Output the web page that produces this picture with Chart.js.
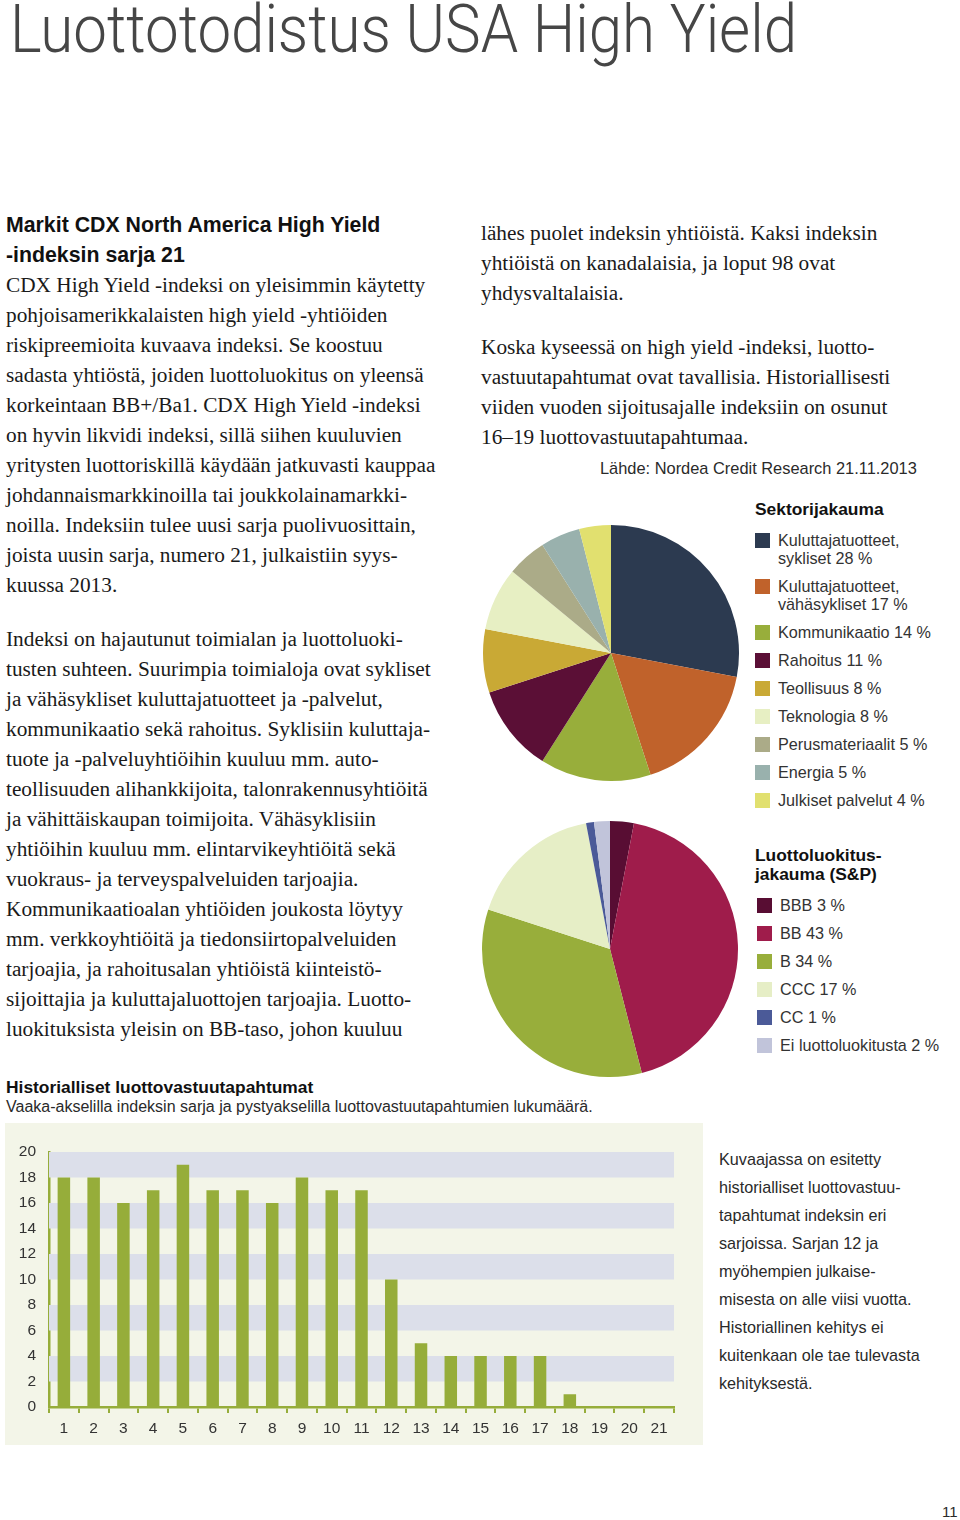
<!DOCTYPE html>
<html lang="fi">
<head>
<meta charset="utf-8">
<title>Luottotodistus USA High Yield</title>
<script src="https://cdn.jsdelivr.net/npm/chart.js@4.4.1/dist/chart.umd.min.js"></script>
<style>
  html, body { margin: 0; padding: 0; background: #fff; }
  body { width: 960px; height: 1520px; position: relative; overflow: hidden; color: #1e1e1e; }
  .abs { position: absolute; white-space: nowrap; }
  #title { left: 10px; top: -3px; font-family: Roboto, "Liberation Sans", sans-serif; font-weight: 300;
           font-size: 66px; line-height: 66px; color: #464646; transform-origin: 0 0; }
  .serif { font-family: "Liberation Serif", "DejaVu Serif", serif; font-size: 21.3px; line-height: 30px; color: #1a1a1a; }
  .head { font-family: "Liberation Sans", Arial, sans-serif; font-weight: bold; font-size: 21.3px; line-height: 30px; color: #111; }
  .sans { font-family: "Liberation Sans", Arial, sans-serif; color: #2a2a2a; }
  .legend { position: absolute; font-family: "Liberation Sans", Arial, sans-serif; font-size: 16.2px; color: #333; }
  .legend .item { display: flex; align-items: flex-start; margin-bottom: 10px; }
  .legend .sw { width: 15px; height: 15px; flex: none; margin-right: 8px; margin-top: 2px; }
  .legend .tx { line-height: 18px; width: 175px; }
  .legend h4 { margin: 0; font-size: 17.4px; font-weight: bold; color: #111; line-height: 19px; }
  #barBox { position: absolute; left: 5px; top: 1123px; width: 698px; height: 322px; background: #f3f5e8; }
</style>
</head>
<body>

<div id="title" class="abs">Luottotodistus USA High Yield</div>

<div class="abs" style="left:6px; top:210px;">
  <div class="head">Markit CDX North America High Yield<br>-indeksin sarja 21</div>
  <div class="serif">CDX High Yield -indeksi on yleisimmin käytetty<br>pohjoisamerikkalaisten high yield -yhtiöiden<br>riskipreemioita kuvaava indeksi. Se koostuu<br>sadasta yhtiöstä, joiden luottoluokitus on yleensä<br>korkeintaan BB+/Ba1. CDX High Yield -indeksi<br>on hyvin likvidi indeksi, sillä siihen kuuluvien<br>yritysten luottoriskillä käydään jatkuvasti kauppaa<br>johdannaismarkkinoilla tai joukkolainamarkki-<br>noilla. Indeksiin tulee uusi sarja puolivuosittain,<br>joista uusin sarja, numero 21, julkaistiin syys-<br>kuussa 2013.</div>
</div>

<div class="abs serif" style="left:6px; top:624px;">Indeksi on hajautunut toimialan ja luottoluoki-<br>tusten suhteen. Suurimpia toimialoja ovat sykliset<br>ja vähäsykliset kuluttajatuotteet ja -palvelut,<br>kommunikaatio sekä rahoitus. Syklisiin kuluttaja-<br>tuote ja -palveluyhtiöihin kuuluu mm. auto-<br>teollisuuden alihankkijoita, talonrakennusyhtiöitä<br>ja vähittäiskaupan toimijoita. Vähäsyklisiin<br>yhtiöihin kuuluu mm. elintarvikeyhtiöitä sekä<br>vuokraus- ja terveyspalveluiden tarjoajia.<br>Kommunikaatioalan yhtiöiden joukosta löytyy<br>mm. verkkoyhtiöitä ja tiedonsiirtopalveluiden<br>tarjoajia, ja rahoitusalan yhtiöistä kiinteistö-<br>sijoittajia ja kuluttajaluottojen tarjoajia. Luotto-<br>luokituksista yleisin on BB-taso, johon kuuluu</div>

<div class="abs serif" style="left:481px; top:218px;">lähes puolet indeksin yhtiöistä. Kaksi indeksin<br>yhtiöistä on kanadalaisia, ja loput 98 ovat<br>yhdysvaltalaisia.</div>
<div class="abs serif" style="left:481px; top:332px;">Koska kyseessä on high yield -indeksi, luotto-<br>vastuutapahtumat ovat tavallisia. Historiallisesti<br>viiden vuoden sijoitusajalle indeksiin on osunut<br>16–19 luottovastuutapahtumaa.</div>

<div class="abs sans" style="left:600px; top:458px; font-size:16.4px; line-height:20px;">Lähde: Nordea Credit Research 21.11.2013</div>

<canvas id="sectorPie" class="abs" style="left:481px; top:523px;" width="260" height="260"></canvas>
<canvas id="ratingPie" class="abs" style="left:480px; top:819px;" width="260" height="260"></canvas>

<div id="sectorLegend" class="legend" style="left:755px; top:500px;"></div>
<div id="ratingLegend" class="legend" style="left:755px; top:846px;"></div>

<div class="abs sans" style="left:6px; top:1077px; font-size:17.4px; line-height:20px; font-weight:bold; color:#111;">Historialliset luottovastuutapahtumat</div>
<div class="abs sans" style="left:6px; top:1097px; font-size:16px; line-height:20px;">Vaaka-akselilla indeksin sarja ja pystyakselilla luottovastuutapahtumien lukumäärä.</div>

<div id="barBox"><canvas id="eventsBar" width="698" height="322"></canvas></div>

<div class="abs sans" style="left:719px; top:1145px; font-size:16.2px; line-height:28px;">Kuvaajassa on esitetty<br>historialliset luottovastuu-<br>tapahtumat indeksin eri<br>sarjoissa. Sarjan 12 ja<br>myöhempien julkaise-<br>misesta on alle viisi vuotta.<br>Historiallinen kehitys ei<br>kuitenkaan ole tae tulevasta<br>kehityksestä.</div>

<div class="abs sans" style="left:942px; top:1503px; font-size:15px; line-height:18px;">11</div>

<script>
// Data

var sectorLabels = ['Kuluttajatuotteet, sykliset', 'Kuluttajatuotteet, vähäsykliset', 'Kommunikaatio', 'Rahoitus',
                    'Teollisuus', 'Teknologia', 'Perusmateriaalit', 'Energia', 'Julkiset palvelut'];
var sectorShares = [28, 17, 14, 11, 8, 8, 5, 5, 4];
var sectorColors = ['#2c3a50', '#c0622b', '#98ae3b', '#5b0f36', '#c9a935', '#e7efc3', '#abab88', '#99b1ad', '#e1e06f'];

var ratingLabels = ['BBB', 'BB', 'B', 'CCC', 'CC', 'Ei luottoluokitusta'];
var ratingShares = [3, 43, 34, 17, 1, 2];
var ratingColors = ['#580d33', '#9f1c4b', '#98ae3b', '#e6eec6', '#4b5a98', '#c1c4da'];

var seriesLabels = ['1', '2', '3', '4', '5', '6', '7', '8', '9', '10', '11', '12', '13', '14', '15', '16', '17', '18', '19', '20', '21'];
var defaultEvents = [18, 18, 16, 17, 19, 17, 17, 16, 18, 17, 17, 10, 5, 4, 4, 4, 4, 1, 0, 0, 0];
var stripeBands = [[2, 4], [6, 8], [10, 12], [14, 16], [18, 20]];

var green = '#96ad3a';

// fit title to its printed width
var t = document.getElementById('title');
t.style.transform = 'scaleX(' + (787 / t.getBoundingClientRect().width) + ')';

function makeLegend(el, heading, labels, values, colors) {
  var html = '<h4>' + heading + '</h4>';
  for (var i = 0; i < labels.length; i++) {
    html += '<div class="item"><span class="sw" style="background:' + colors[i] + '"></span>' +
            '<span class="tx">' + labels[i] + ' ' + values[i] + ' %</span></div>';
  }
  el.innerHTML = html;
}
makeLegend(document.getElementById('sectorLegend'), 'Sektorijakauma', sectorLabels, sectorShares, sectorColors);
makeLegend(document.getElementById('ratingLegend'), 'Luottoluokitus-<br>jakauma (S&amp;P)', ratingLabels, ratingShares, ratingColors);
document.querySelector('#sectorLegend h4').style.marginBottom = '12px';
document.querySelector('#ratingLegend h4').style.marginBottom = '12px';
document.querySelectorAll('#sectorLegend .tx').forEach(function (e) { e.style.width = '170px'; });
document.querySelectorAll('#ratingLegend .tx').forEach(function (e) { e.style.whiteSpace = 'nowrap'; });
document.querySelectorAll('#ratingLegend .sw').forEach(function (e) { e.style.marginLeft = '2px'; });

function pie(id, labels, values, colors) {
  return new Chart(document.getElementById(id).getContext('2d'), {
    type: 'pie',
    data: { labels: labels, datasets: [{ data: values, backgroundColor: colors, borderWidth: 0 }] },
    options: {
      responsive: false,
      animation: false,
      radius: 128,
      plugins: { legend: { display: false }, tooltip: { enabled: false } }
    }
  });
}
pie('sectorPie', sectorLabels, sectorShares, sectorColors);
pie('ratingPie', ratingLabels, ratingShares, ratingColors);

var stripes = {
  id: 'stripes',
  beforeDatasetsDraw: function (chart) {
    var ctx = chart.ctx, y = chart.scales.y, a = chart.chartArea;
    ctx.save();
    ctx.fillStyle = '#dcdfea';
    stripeBands.forEach(function (b) {
      var top = y.getPixelForValue(b[1]), bot = y.getPixelForValue(b[0]);
      ctx.fillRect(a.left, top, a.right - a.left, bot - top);
    });
    ctx.restore();
  }
};

var tickFont = { family: '"Liberation Sans", Arial, sans-serif', size: 15.5 };

new Chart(document.getElementById('eventsBar').getContext('2d'), {
  type: 'bar',
  data: {
    labels: seriesLabels,
    datasets: [{ data: defaultEvents, backgroundColor: green, barPercentage: 0.42, categoryPercentage: 1 }]
  },
  options: {
    responsive: false,
    animation: false,
    layout: { padding: { top: 29, right: 29, left: 0, bottom: 0 } },
    plugins: { legend: { display: false }, tooltip: { enabled: false } },
    scales: {
      x: {
        grid: { display: true, drawOnChartArea: false, drawTicks: true, tickLength: 6, color: green, lineWidth: 2 },
        border: { display: true, color: green, width: 2.5 },
        ticks: { color: '#333', font: tickFont, padding: 6, maxRotation: 0, autoSkip: false },
        afterFit: function (s) { s.height = 38; }
      },
      y: {
        min: 0, max: 20,
        grid: { display: false },
        border: { display: true, color: green, width: 2.5 },
        ticks: { stepSize: 2, color: '#333', font: tickFont, padding: 5 },
        afterFit: function (s) { s.width = 44; }
      }
    }
  },
  plugins: [stripes]
});
</script>
</body>
</html>
